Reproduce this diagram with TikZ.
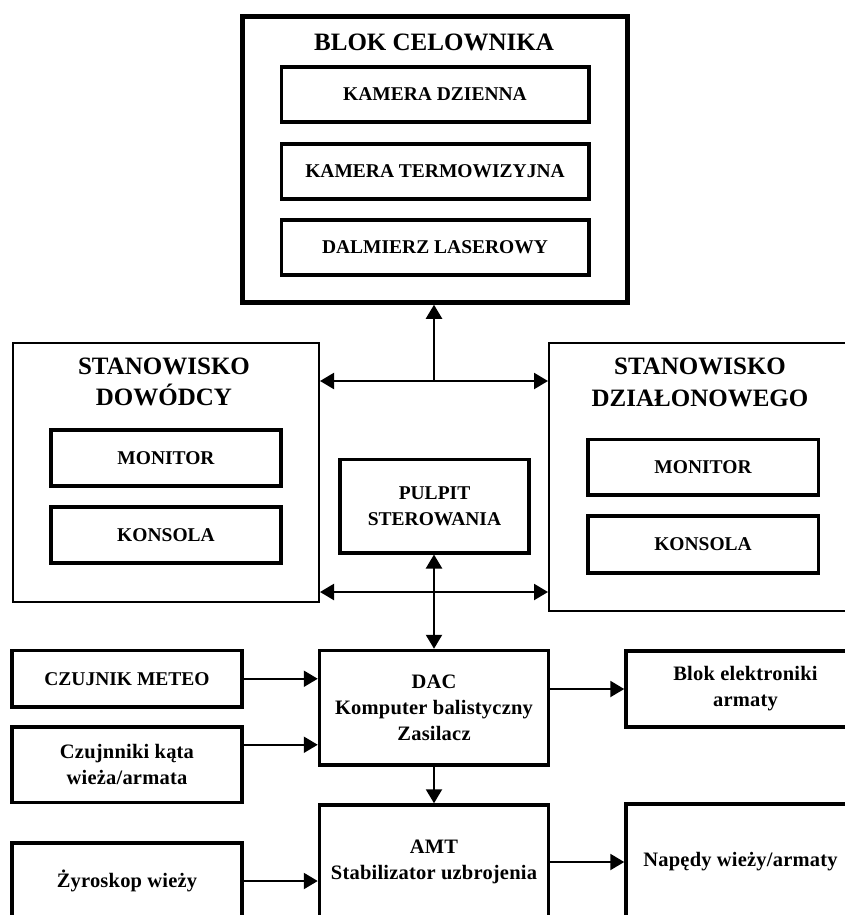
\documentclass[tikz,border=0pt]{standalone}
\usepackage{fontspec}
\setmainfont{Liberation Serif}
\newfontfamily\rozstaw[LetterSpace=1]{Liberation Serif}
\usetikzlibrary{arrows.meta}
\tikzset{
  gruby/.style={draw,line width=4.5pt,inner sep=0pt},
  blok/.style={draw,line width=3.5pt,inner sep=0pt,align=center,font=\fontsize{19.5}{26}\selectfont\bfseries},
  blokm/.style={blok,font=\rozstaw\fontsize{20.5}{26}\selectfont\bfseries},
  stan/.style={draw,line width=2pt,inner sep=0pt},
  tytul/.style={align=center,font=\fontsize{25}{31.5}\selectfont\bfseries},
  strz/.style={line width=2.2pt,-{Triangle[length=14pt,width=16pt]}},
  dstrz/.style={line width=2.2pt,{Triangle[length=14pt,width=16pt]}-{Triangle[length=14pt,width=16pt]}}
}
\begin{document}
\begin{tikzpicture}[x=1pt,y=-1pt]
\useasboundingbox (0,0) rectangle (845,915);
\clip (0,0) rectangle (845,915);

\node[gruby,minimum width=385pt,minimum height=286pt] (celownik) at (435,159.5) {};
\node[tytul] (celownikT) at (434,42) {BLOK CELOWNIKA};
\node[blok,minimum width=307.5pt,minimum height=55pt] (kamD) at (435,94.5) {KAMERA DZIENNA};
\node[blok,minimum width=307.5pt,minimum height=55pt] (kamT) at (435,171.5) {KAMERA TERMOWIZYJNA};
\node[blok,minimum width=307.5pt,minimum height=55pt] (dalm) at (435,247.5) {DALMIERZ LASEROWY};

\node[stan,minimum width=306.5pt,minimum height=259pt] (dowodca) at (165.75,472.5) {};
\node[tytul] (dowodcaT) at (164,382) {STANOWISKO\\DOWÓDCY};
\node[blok,minimum width=230pt,minimum height=56pt] (monD) at (166,458) {MONITOR};
\node[blok,minimum width=230pt,minimum height=56pt] (konD) at (166,535) {KONSOLA};

\node[stan,minimum width=321pt,minimum height=268pt] (dzialon) at (709.5,477) {};
\node[tytul] (dzialonT) at (700,382.5) {STANOWISKO\\DZIAŁONOWEGO};
\node[blok,minimum width=230.5pt,minimum height=55.5pt] (monG) at (703,467) {MONITOR};
\node[blok,minimum width=230.5pt,minimum height=57pt] (konG) at (703,544.5) {KONSOLA};

\node[blok,minimum width=189pt,minimum height=93.5pt] (pulpit) at (434.5,506) {PULPIT\\STEROWANIA};

\node[blokm,minimum width=229pt,minimum height=114.5pt] (dac) at (434,707.75) {DAC\\Komputer balistyczny\\Zasilacz};
\node[blokm,minimum width=229pt,minimum height=114pt] (amt) at (434,862) {AMT\\Stabilizator uzbrojenia};
\node[blok,minimum width=230pt,minimum height=56.5pt] (meteo) at (127,678.75) {CZUJNIK METEO};
\node[blokm,minimum width=230pt,minimum height=75.5pt] (katy) at (127,764.75) {Czujnniki kąta\\wieża/armata};
\node[blokm,minimum width=230pt,minimum height=76pt] (zyro) at (127,881) {Żyroskop wieży};
\node[blokm,minimum width=239pt,minimum height=76pt] (elektr) at (745.5,689) {Blok elektroniki\\armaty};
\node[blokm,minimum width=229pt,minimum height=115pt] (napedy) at (740.5,861.5) {Napędy wieży/armaty};

\coordinate (jg) at (434,381);
\coordinate (jd) at (434,592);

\draw[strz] (jg) -- (jg |- celownik.south);
\draw[strz] (jg) -- (jg -| dowodca.east);
\draw[strz] (jg) -- (jg -| dzialon.west);
\draw[dstrz] (jd -| dowodca.east) -- (jd -| dzialon.west);
\draw[dstrz] (jd |- pulpit.south) -- (jd |- dac.north);

\draw[strz] (meteo) -- (meteo -| dac.west);
\draw[strz] ([yshift=20pt]katy.east) -- ([yshift=20pt]katy.east -| dac.west);
\draw[strz] (zyro) -- (zyro -| amt.west);
\draw[strz] (dac.east |- elektr) -- (elektr);
\draw[strz] (dac) -- (amt);
\draw[strz] (amt) -- (amt -| napedy.west);
\end{tikzpicture}
\end{document}
